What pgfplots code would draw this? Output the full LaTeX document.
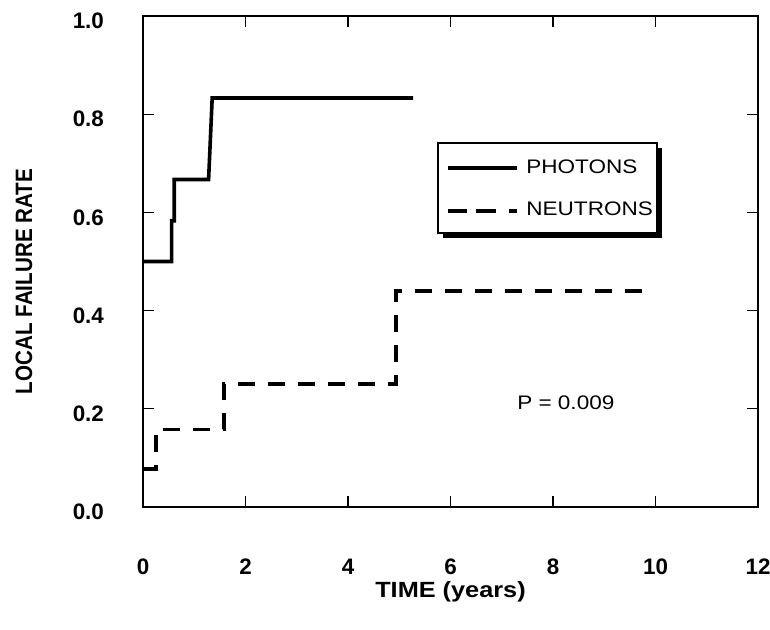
\documentclass[border=0pt]{standalone}
\usepackage{fontspec}
\setmainfont{Liberation Sans}
\newfontfamily\widefont{Liberation Sans}[FakeStretch=1.15]
\usepackage{graphicx}
\usepackage{pgfplots}
\pgfplotsset{compat=1.18}
\pgfplotsset{
  long legend/.style={legend image code/.code={\draw[##1] (0pt,0pt) -- (31.5pt,0pt); \path (0pt,0pt) -- (34pt,0pt);}},
  short legend/.style={legend image code/.code={\draw[##1, dash pattern=on 9.5pt off 4.5pt] (0pt,0pt) -- (23.5pt,0pt); \path (0pt,0pt) -- (34pt,0pt);}},
}

\begin{document}
\begin{tikzpicture}
% page frame: 770x629 px at 0.5pt per px, axis corner at (143,507)
\path[use as bounding box] (-71.5pt,-61pt) rectangle (313.5pt,253.5pt);
\begin{axis}[scale only axis,
  width=307.5pt, height=245.5pt,
  at={(0pt,0pt)}, anchor=south west,
  xmin=0, xmax=12, ymin=0, ymax=1,
  xtick={0,2,4,6,8,10,12},
  xticklabels={0,2,4,6,8,10,12},
  ytick={0,0.2,0.4,0.6,0.8,1.0},
  yticklabels={0.0,0.2,0.4,0.6,0.8,1.0},
  tick align=inside,
  major tick length=5.5pt,
  tick style={black, line width=0.6pt},
  axis line style={black, line width=1.1pt},
  ticklabel style={font=\fontsize{11.2}{13}\selectfont\bfseries},
  xticklabel style={yshift=-22.5pt},
  yticklabel style={xshift=-16pt, yshift=-2.5pt},
  xlabel={\widefont\bfseries\fontsize{11}{13}\selectfont TIME (years)},
  xlabel style={at={(axis description cs:0.5,0)}, anchor=center, yshift=-42.5pt},
  ylabel={\scalebox{1}[1.15]{\bfseries\fontsize{10.3}{12}\selectfont LOCAL FAILURE RATE}},
  ylabel style={at={(axis description cs:0,0.5)}, anchor=center, yshift=59.5pt, xshift=-10pt},
  legend cell align=left,
  legend style={at={(rel axis cs:0.48,0.741)}, anchor=north west,
    draw=none, fill=none,
    font=\widefont\fontsize{9.8}{12}\selectfont,
    row sep=9pt, inner xsep=4pt, inner ysep=6pt,
    nodes={inner xsep=4pt}},
]
% legend frame with its shadow
\fill[black, shift={(2.5pt,-2.5pt)}] (rel axis cs:0.4797,0.7413) rectangle (rel axis cs:0.8358,0.558);
\filldraw[fill=white, draw=black, line width=0.8pt] (rel axis cs:0.4797,0.7413) rectangle (rel axis cs:0.8358,0.558);
\addplot[black, line width=1.8pt, long legend] coordinates
  {(0,0.5) (0.56,0.5) (0.56,0.583) (0.61,0.583) (0.61,0.667) (1.28,0.667) (1.35,0.833) (5.27,0.833)};
\addlegendentry{PHOTONS}
\addplot[black, line width=1.9pt, dash pattern=on 8.5pt off 6.5pt, short legend] coordinates
  {(0,0.077) (0.25,0.077) (0.25,0.158) (1.58,0.158) (1.58,0.25) (4.93,0.25) (4.93,0.44) (9.9,0.44)};
\addlegendentry{NEUTRONS}
\node[font=\widefont\fontsize{9.8}{12}\selectfont] at (axis cs:8.25,0.212) {P = 0.009};
\end{axis}
\end{tikzpicture}
\end{document}
